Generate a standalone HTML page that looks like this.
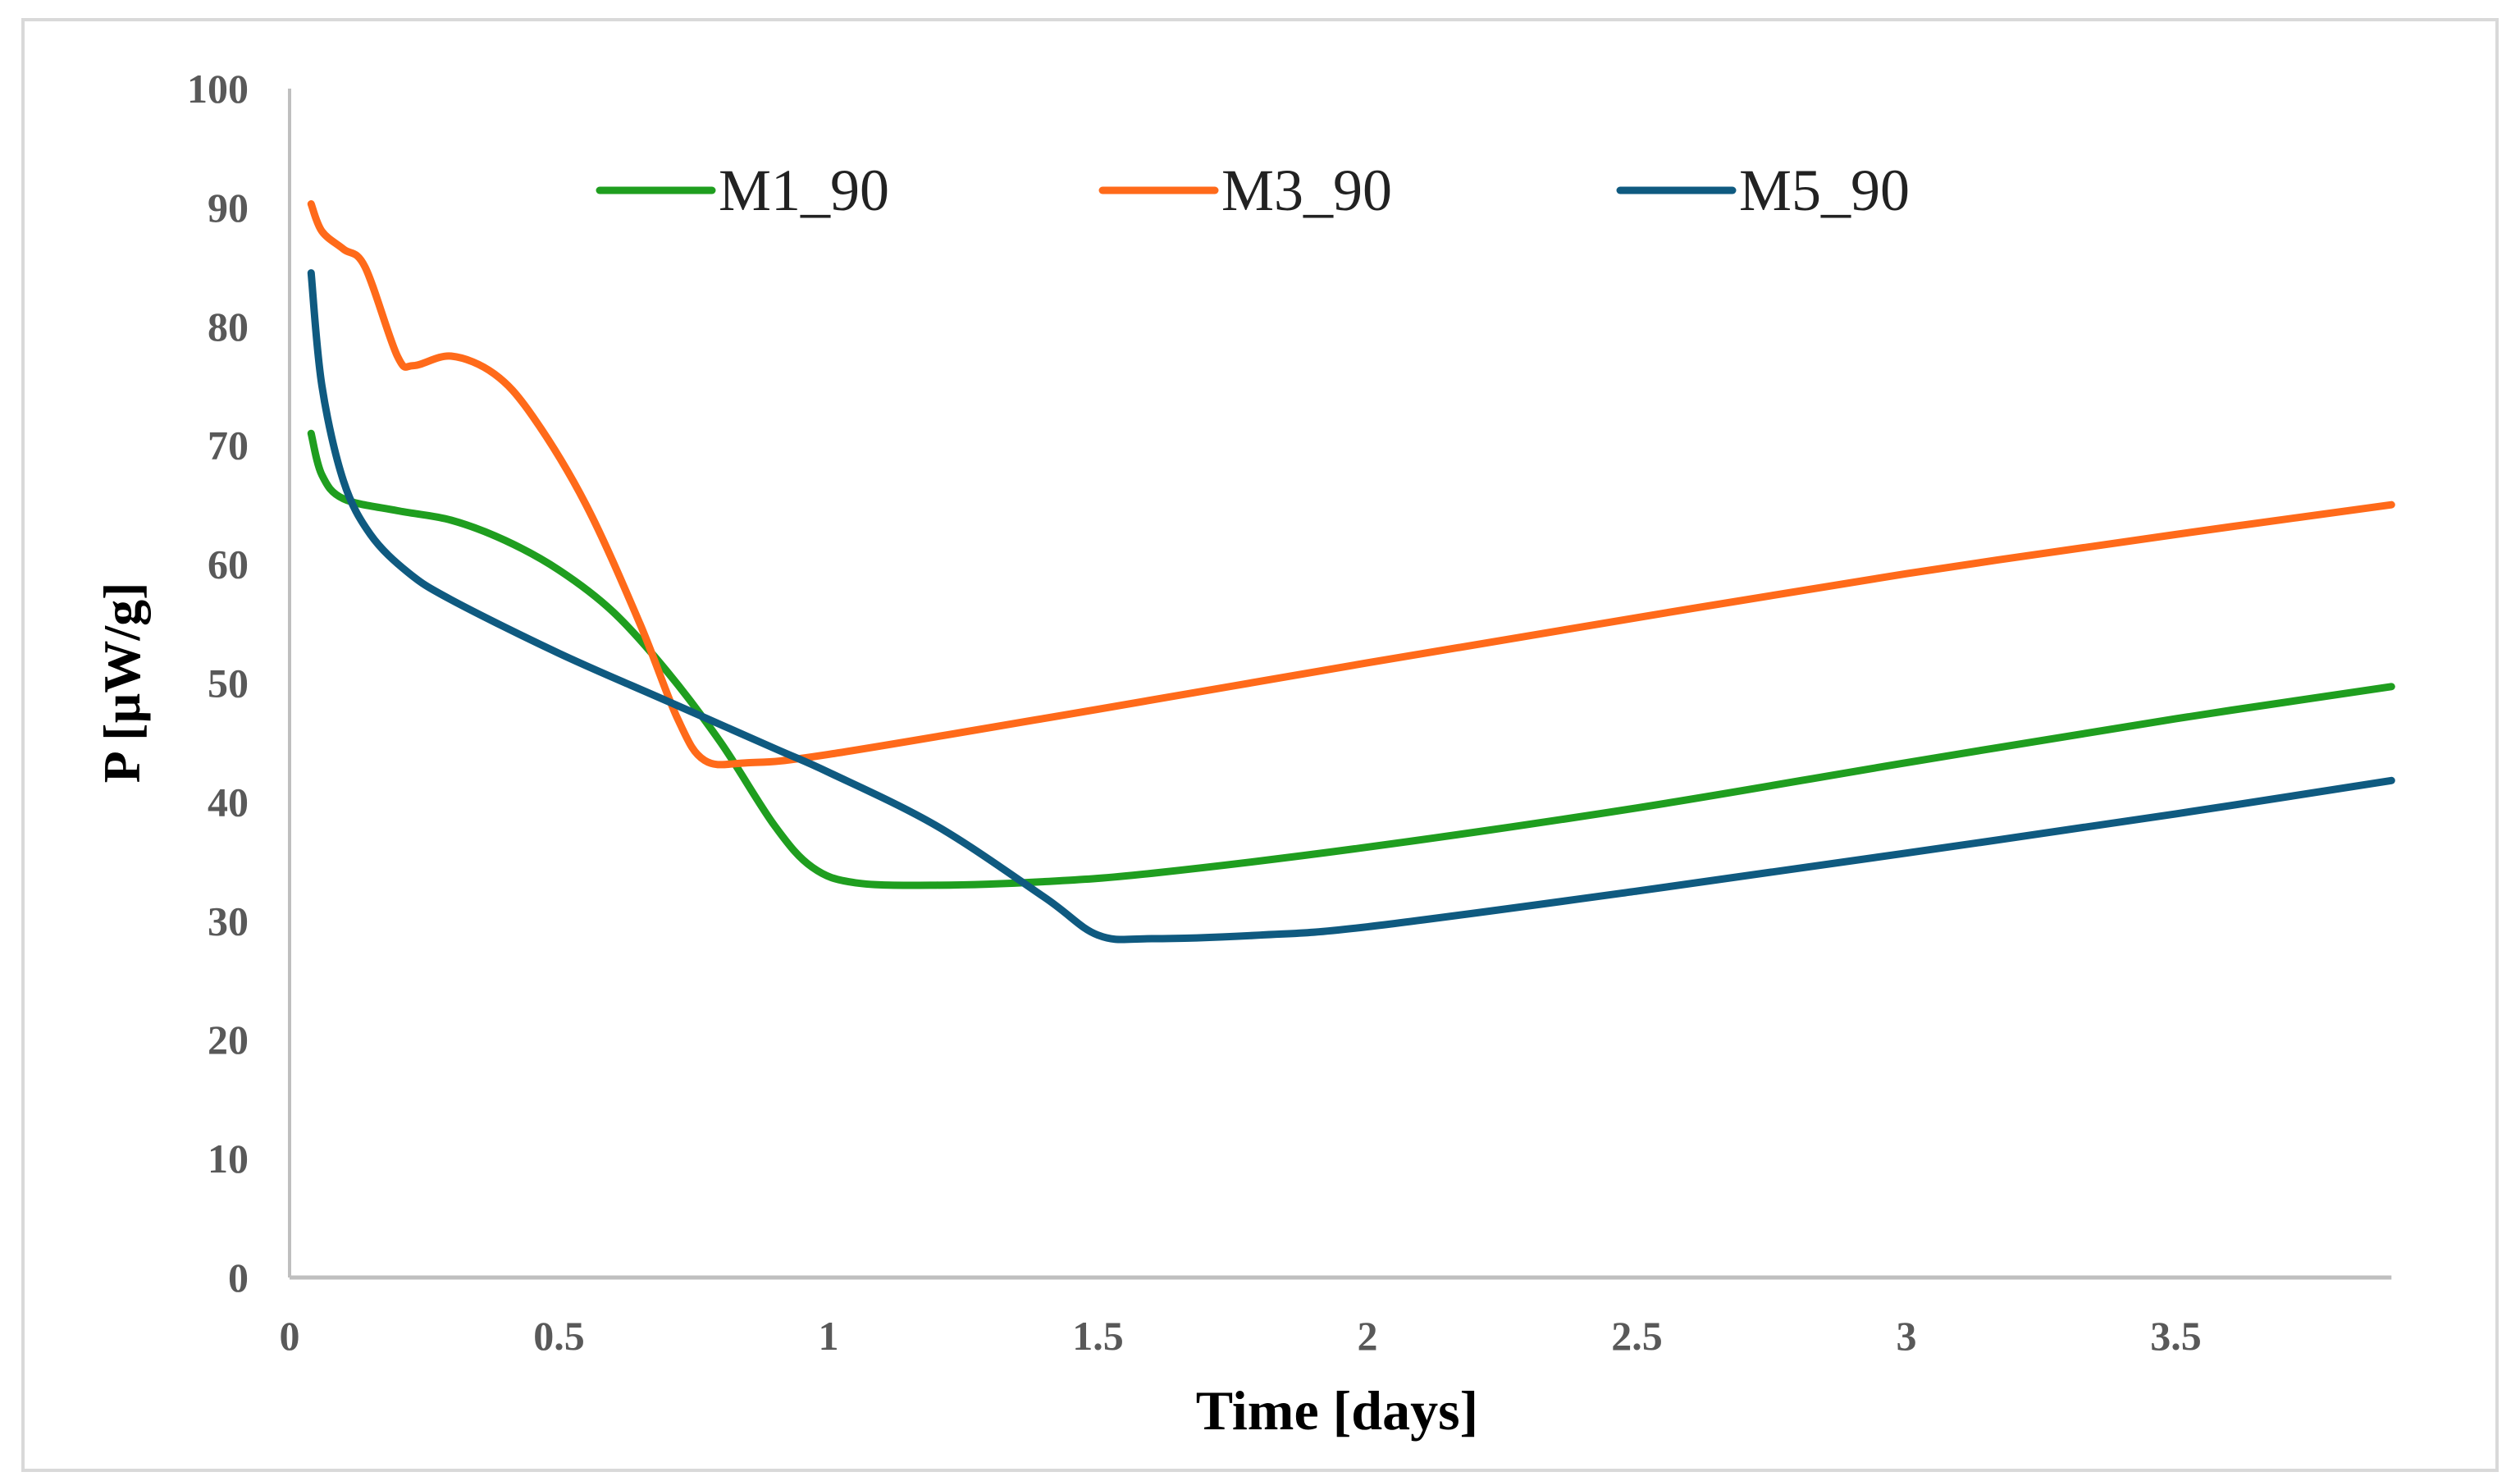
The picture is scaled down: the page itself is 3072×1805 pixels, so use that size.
<!DOCTYPE html>
<html><head><meta charset="utf-8"><style>
html,body{margin:0;padding:0;background:#fff}
svg{display:block}
</style></head><body>
<svg id="chart" width="3072" height="1805" viewBox="0 0 3072 1805">
<rect x="28" y="24" width="3016" height="1768" fill="#fff" stroke="#d9d9d9" stroke-width="4"/>
<g id="axes"></g>
<g id="series"></g>
<g id="legend"></g>
<text x="1630" y="1742" font-family="Liberation Serif, serif" font-weight="bold" font-size="68" text-anchor="middle" fill="#000">Time [days]</text>
<text transform="translate(170,832) rotate(-90)" font-family="Liberation Serif, serif" font-weight="bold" font-size="64" text-anchor="middle" fill="#000">P [µW/g]</text>
</svg>
<script>
const xTicks=[0,0.5,1,1.5,2,2.5,3,3.5];
const xTickLabels=["0","0.5","1","1.5","2","2.5","3","3.5"];
const yTicks=[0,10,20,30,40,50,60,70,80,90,100];
const seriesNames=["M1_90","M3_90","M5_90"];
const seriesColors=["#1f9e1f","#ff6a1a","#0f5a80"];
const m1X=[0.04,0.06,0.1,0.2,0.3,0.4,0.5,0.6,0.7,0.8,0.9,0.97,1.05,1.2,1.4,1.6,2,2.5,3,3.5,3.9];
const m1Y=[71,67.5,65.5,64.5,63.7,62,59.5,56,51,45,38,34.5,33.2,33,33.3,34,36.2,39.5,43.3,47,49.7];
const m3X=[0.04,0.06,0.1,0.14,0.2,0.23,0.3,0.38,0.45,0.55,0.65,0.72,0.77,0.85,1,1.5,2,2.5,3,3.5,3.9];
const m3Y=[90.3,88,86.5,85,77.5,76.7,77.5,76,72.5,65,55,47,43.5,43.3,44,47.8,51.7,55.5,59.2,62.5,65];
const m5X=[0.04,0.06,0.1,0.15,0.22,0.3,0.5,0.7,0.9,1,1.2,1.4,1.5,1.6,1.8,2,2.5,3,3.5,3.9];
const m5Y=[84.5,75,67,62.5,59.3,57,52.5,48.5,44.5,42.5,38,32,28.8,28.5,28.8,29.5,32.5,35.7,39,41.8];

const X0=353,PXD=657,XMAX=3.9,Y0=1557,PXU=14.49;
const sx=v=>X0+v*PXD, sy=v=>Y0-v*PXU;
const NS="http://www.w3.org/2000/svg";
function mk(t,a,p){const e=document.createElementNS(NS,t);for(const k in a)e.setAttribute(k,a[k]);p.appendChild(e);return e;}
const axes=document.getElementById('axes');
const yl=mk('line',{x1:sx(0),y1:sy(100),x2:sx(0),y2:sy(0),stroke:'#bfbfbf','stroke-width':4},axes);


const xl=mk('line',{x1:sx(0),y1:sy(0),x2:sx(XMAX),y2:sy(0),stroke:'#bfbfbf','stroke-width':5},axes);


yTicks.forEach(v=>{const t=mk('text',{x:sx(0)-50,y:sy(v)+17,'text-anchor':'end','font-family':'Liberation Serif, serif','font-weight':'bold','font-size':50,fill:'#595959'},axes);t.textContent=v;

});
xTicks.forEach((v,i)=>{const t=mk('text',{x:sx(v),y:sy(0)+88,'text-anchor':'middle','font-family':'Liberation Serif, serif','font-weight':'bold','font-size':50,fill:'#595959'},axes);t.textContent=xTickLabels[i];

});
function path(xs,ys){const p=xs.map((x,i)=>[sx(x),sy(ys[i])]);let d=`M${p[0][0]},${p[0][1]}`;
for(let i=0;i<p.length-1;i++){const a=p[Math.max(0,i-1)],b=p[i],c=p[i+1],e=p[Math.min(p.length-1,i+2)];
const c1=[b[0]+(c[0]-a[0])/6,b[1]+(c[1]-a[1])/6],c2=[c[0]-(e[0]-b[0])/6,c[1]-(e[1]-b[1])/6];
d+=` C${c1[0]},${c1[1]} ${c2[0]},${c2[1]} ${c[0]},${c[1]}`;}return d;}
const sg=document.getElementById('series');
const data=[[m1X,m1Y],[m3X,m3Y],[m5X,m5Y]];
data.forEach((s,i)=>{const p=mk('path',{d:path(s[0],s[1]),fill:'none',stroke:seriesColors[i],'stroke-width':9,'stroke-linecap':'round','stroke-linejoin':'round'},sg);

});
const lg=document.getElementById('legend');
const lx=[731,1344,1975];
seriesNames.forEach((n,i)=>{const g=mk('g',{},lg);


mk('line',{x1:lx[i],y1:232,x2:lx[i]+137,y2:232,stroke:seriesColors[i],'stroke-width':9,'stroke-linecap':'round'},g);
const t=mk('text',{x:lx[i]+145,y:256,'font-family':'Liberation Serif, serif','font-size':72,fill:'#222'},g);t.textContent=n;});
</script>
</body></html>
